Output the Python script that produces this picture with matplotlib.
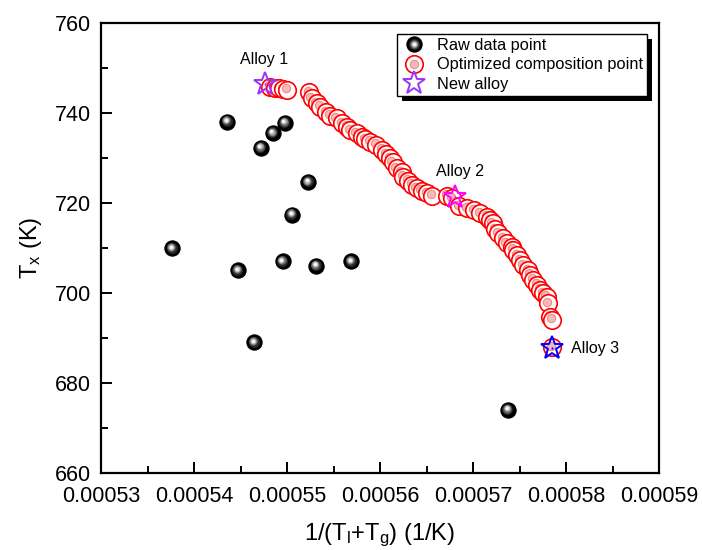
"""Tx versus 1/(Tl+Tg): raw alloys, optimized compositions and new alloys."""

import matplotlib
matplotlib.use("Agg")
import matplotlib.pyplot as plt
from matplotlib.lines import Line2D
from matplotlib.patches import Rectangle
from matplotlib.legend_handler import HandlerTuple
from matplotlib.ticker import FixedLocator, MultipleLocator, FuncFormatter
from matplotlib.transforms import offset_copy

plt.rcParams["font.family"] = ["Liberation Sans", "DejaVu Sans"]
plt.rcParams["mathtext.fontset"] = "custom"
plt.rcParams["mathtext.rm"] = "Liberation Sans"
plt.rcParams["mathtext.it"] = "Liberation Sans:italic"

# raw data points
raw_x = [0.00053767, 0.00054358, 0.00054978, 0.00054849, 0.00054720, 0.00055230,
         0.00055054, 0.00054473, 0.00054953, 0.00055315, 0.00055692, 0.00054649,
         0.00057376]
raw_y = [709.9, 738.1, 737.8, 735.5, 732.2, 724.6,
         717.4, 705.0, 707.0, 706.0, 707.0, 689.0,
         674.0]

# optimized composition points
opt_x = [0.00054817, 0.00054871, 0.00054918, 0.00054961, 0.00055004,
         0.00055240, 0.00055265, 0.00055319, 0.00055355, 0.00055419, 0.00055462,
         0.00055534, 0.00055588, 0.00055649, 0.00055677, 0.00055749, 0.00055803,
         0.00055839, 0.00055892, 0.00055957, 0.00056018, 0.00056065, 0.00056108,
         0.00056136, 0.00056179, 0.00056233, 0.00056251, 0.00056305, 0.00056341,
         0.00056394, 0.00056448, 0.00056502, 0.00056556, 0.00056717, 0.00056771,
         0.00056853, 0.00056932, 0.00057011, 0.00057075, 0.00057147, 0.00057183,
         0.00057211, 0.00057237, 0.00057272, 0.00057326, 0.00057362, 0.00057416,
         0.00057434, 0.00057470, 0.00057505, 0.00057541, 0.00057595, 0.00057613,
         0.00057649, 0.00057685, 0.00057720, 0.00057756, 0.00057792, 0.00057810,
         0.00057828, 0.00057846, 0.00057846]
opt_y = [745.85, 745.48, 745.48, 745.33, 745.11,
         744.59, 743.26, 742.15, 741.41, 740.15, 739.41,
         738.81, 737.70, 736.96, 736.22, 735.48, 734.74,
         734.22, 733.63, 732.89, 731.78, 730.81, 729.93,
         729.04, 727.70, 726.81, 725.85, 724.89, 724.00,
         723.26, 722.67, 722.15, 721.63, 721.63, 721.04,
         719.33, 718.81, 718.44, 717.70, 716.96, 716.22,
         715.48, 714.22, 713.26, 712.15, 711.04, 710.30,
         709.56, 708.44, 707.33, 706.22, 705.11, 704.00,
         702.89, 701.78, 700.67, 699.93, 699.19, 697.70,
         694.74, 694.00, 687.9]

# new alloys
alloy_names = ["Alloy 1", "Alloy 2", "Alloy 3"]
alloy_x = [0.00054763, 0.00056806, 0.00057846]
alloy_y = [746.4, 721.4, 687.7]
alloy_colors = ["#9933ff", "#ff00ff", "#0000ff"]

x_ticks = [0.00053, 0.00054, 0.00055, 0.00056, 0.00057, 0.00058, 0.00059]

fig = plt.figure(figsize=(7.02, 5.5), dpi=100)
ax = fig.add_axes([0.1439, 0.14, 0.7949, 0.8182])


def shifted(dx, dy):
    return offset_copy(ax.transData, fig=fig, x=dx, y=dy, units="dots")


# shaded black spheres
sphere_layers = [
    (0, 0, 11.8, "#000000"),
    (-0.6, 0.8, 7.8, "#2a2a2a"),
    (-1.0, 1.2, 6.2, "#606060"),
    (-1.3, 1.6, 4.6, "#a8a8a8"),
    (-1.5, 1.8, 3.0, "#e6e6e6"),
    (-1.6, 1.9, 1.6, "#ffffff"),
]
for dx, dy, ms, c in sphere_layers:
    ax.plot(raw_x, raw_y, "o", ms=ms, color=c, mew=0, transform=shifted(dx, dy),
            zorder=3)

# open red circles with a pink highlight, drawn one by one so later ones overlap
for i, (x, y) in enumerate(zip(opt_x, opt_y)):
    z = 4 + i * 0.01
    ax.plot(x, y, "o", ms=12.6, mfc="white", mec="#ff0000", mew=1.2, zorder=z)
    ax.plot(x, y, "o", ms=6.0, mfc="#f9b8b8", mec="#f08a8a", mew=0.8,
            transform=shifted(-1.2, 1.5), zorder=z + 0.005)

# stars for the new alloys
for x, y, c in zip(alloy_x, alloy_y, alloy_colors):
    ax.plot(x, y, "*", ms=17, mfc="none", mec=c, mew=1.4, zorder=6)
    ax.plot(x, y, "o", ms=1.5, color=c, mew=0, zorder=6)

ax.text(alloy_x[0] - 0.0000001, alloy_y[0] + 3.8, alloy_names[0], fontsize=11.5,
        ha="center", va="bottom")
ax.text(alloy_x[1] + 0.0000005, alloy_y[1] + 4.0, alloy_names[1], fontsize=11.5,
        ha="center", va="bottom")
ax.text(alloy_x[2] + 0.0000021, alloy_y[2], alloy_names[2], fontsize=11.5,
        ha="left", va="center")

ax.set_xlim(0.00053, 0.00059)
ax.set_ylim(660, 760)
ax.xaxis.set_major_locator(FixedLocator(x_ticks))
ax.xaxis.set_minor_locator(MultipleLocator(0.000005))
ax.xaxis.set_major_formatter(FuncFormatter(lambda v, p: f"{v:.5f}"))
ax.yaxis.set_major_locator(MultipleLocator(20))
ax.yaxis.set_minor_locator(MultipleLocator(10))

for sp in ax.spines.values():
    sp.set_linewidth(1.6)
ax.tick_params(which="both", direction="in", top=False, right=False, width=1.4)
ax.tick_params(which="major", length=8, labelsize=15.5)
ax.tick_params(axis="x", which="major", pad=9)
ax.tick_params(axis="y", which="major", pad=7)
ax.tick_params(which="minor", length=5)

ax.set_xlabel(r"1/(T$_\mathregular{l}$+T$_\mathregular{g}$) (1/K)", fontsize=17,
              labelpad=11)
ax.set_ylabel(r"T$_\mathregular{x}$ (K)", fontsize=17, labelpad=8)

# legend
raw_handle = tuple(
    Line2D([], [], ls="none", marker="o", ms=ms, color=c, mew=0)
    for _, _, ms, c in sphere_layers
)
opt_handle = (
    Line2D([], [], ls="none", marker="o", ms=12.6, mfc="white", mec="#ff0000", mew=1.2),
    Line2D([], [], ls="none", marker="o", ms=6.0, mfc="#f9b8b8", mec="#f08a8a", mew=0.8),
)
new_handle = Line2D([], [], ls="none", marker="*", ms=17, mfc="none",
                    mec="#9933ff", mew=1.4)
leg = ax.legend(
    [raw_handle, opt_handle, new_handle],
    ["Raw data point", "Optimized composition point", "New alloy"],
    handler_map={tuple: HandlerTuple(ndivide=1, pad=0)},
    loc="upper right", bbox_to_anchor=(0.978, 0.976), borderaxespad=0,
    fontsize=11.8, frameon=True, fancybox=False, framealpha=1,
    edgecolor="black", handlelength=1.6, handletextpad=0.6,
    labelspacing=0.28, borderpad=0.25,
)
leg.get_frame().set_linewidth(1.0)
leg.set_zorder(10)

# solid drop shadow under the legend box
fig.canvas.draw()
bb = leg.get_window_extent()
shadow = Rectangle((bb.x0 + 5, bb.y0 - 5), bb.width, bb.height, transform=None,
                   facecolor="black", edgecolor="none", zorder=9.5)
ax.add_artist(shadow)

fig.savefig("out.png", dpi=100)
